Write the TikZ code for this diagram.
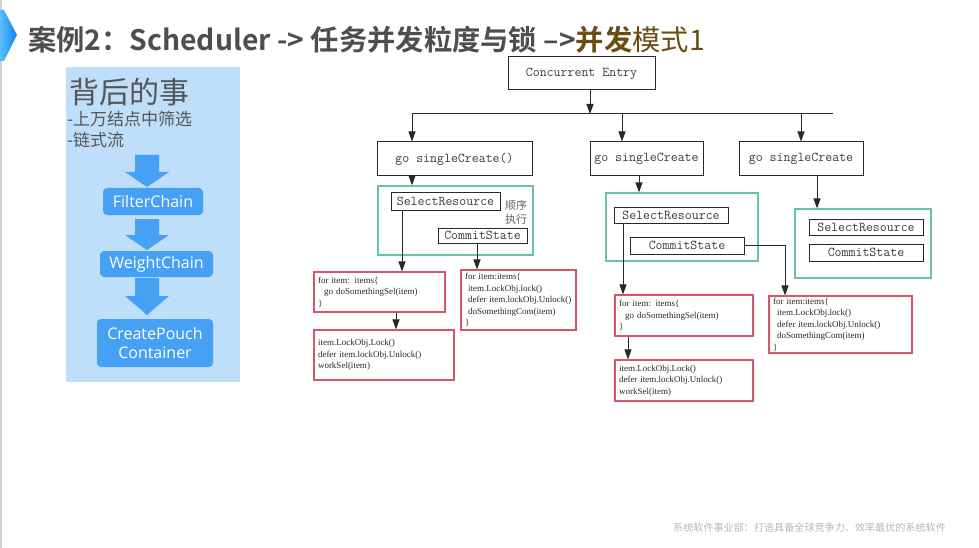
\documentclass[tikz,border=0pt]{standalone}
\usepackage{fontspec}
\usetikzlibrary{arrows.meta,calc}
\newfontfamily\cjk{Noto Sans CJK SC}[BoldFont={Noto Sans CJK SC Bold}]
\newfontfamily\osans{Open Sans}
\newfontfamily\tms{Liberation Serif}
\definecolor{titlegray}{RGB}{78,78,78}
\definecolor{brownT}{RGB}{108,76,16}
\definecolor{panelblue}{RGB}{190,222,250}
\definecolor{bluec}{RGB}{70,160,244}
\definecolor{linegray}{RGB}{40,40,40}
\definecolor{grnc}{RGB}{105,196,160}
\definecolor{redc}{RGB}{212,86,106}
\definecolor{boxtext}{RGB}{60,60,60}
\definecolor{paneltext}{RGB}{85,85,85}
\newcommand{\bdarrow}[3]{\fill[bluec] (135,#1) -- (159,#1) -- (159,#2) -- (169,#2) -- (147,#3) -- (125,#2) -- (135,#2) -- cycle;}
\tikzset{
  blk/.style={draw=linegray, line width=1pt, fill=white, inner sep=0pt,
    font=\fontsize{13.5}{15}\selectfont\ttfamily, text=boxtext},
  grnbox/.style={draw=grnc, line width=1.2pt, inner sep=0pt},
  redbox/.style={draw=redc, line width=1.1pt, fill=white, inner xsep=4pt, inner ysep=0pt,
    align=left, font=\tms\fontsize{9}{11.5}\selectfont, text=linegray},
  arr/.style={draw=linegray, line width=1pt, -{Triangle[length=10pt,width=7pt]}},
  ln/.style={draw=linegray, line width=1pt},
  bluebox/.style={fill=bluec, rounded corners=4pt, text=white, inner sep=0pt,
    font=\osans\fontsize{16}{20}\selectfont, align=center},
}
\begin{document}
\begin{tikzpicture}[x=1pt,y=-1pt]
\useasboundingbox (0,0) rectangle (979,548);
\fill[white] (0,0) rectangle (979,548);
% left decorations
\draw[black!18, line width=1.2pt] (1,0) -- (1,548);
\shade[left color={rgb,255:red,90;green,190;blue,250}, right color={rgb,255:red,20;green,130;blue,235}]
  (0,10) -- (4,10) -- (17,35) -- (4,61) -- (0,61) -- cycle;
% title
\node[anchor=west, inner sep=0pt, font=\cjk\fontsize{28.3}{30}\selectfont] (title) at (28,40)
  {{\bfseries\color{titlegray}案例2：Scheduler -> 任务并发粒度与锁 –>}{\bfseries\color{brownT}并发}{\color{brownT}模式1}};
% left panel
\fill[panelblue] (66,67) rectangle (240,382);
\node[anchor=west, inner sep=0pt, text=paneltext, font=\cjk\fontsize{30}{32}\selectfont] (t1) at (69,92) {背后的事};
\node[anchor=west, inner sep=0pt, text=paneltext, font=\cjk\fontsize{17}{18}\selectfont] (t2) at (67,119) {-上万结点中筛选};
\node[anchor=west, inner sep=0pt, text=paneltext, font=\cjk\fontsize{17}{18}\selectfont] (t3) at (67,140) {-链式流};
\bdarrow{155}{172}{187}
\bdarrow{219}{235}{250}
\bdarrow{278}{296}{315}
\node[bluebox, minimum width=100pt, minimum height=27pt] (fc) at (153,201.5) {FilterChain};
\node[bluebox, minimum width=113pt, minimum height=26pt] (wc) at (156.5,264) {WeightChain};
\node[bluebox, minimum width=116pt, minimum height=48pt, font=\osans\fontsize{16}{19}\selectfont] (cp) at (155,343) {CreatePouch\\Container};
% green groups
\node[grnbox, minimum width=155pt, minimum height=69pt] (gr1) at (455.5,220.5) {};
\node[grnbox, minimum width=152pt, minimum height=68pt] (gr2) at (682,227) {};
\node[grnbox, minimum width=136pt, minimum height=69pt] (gr3) at (863,243.5) {};
% black boxes
\node[blk, minimum width=147pt, minimum height=33pt] (entry) at (581.5,73.5) {Concurrent Entry};
\node[blk, minimum width=155pt, minimum height=34pt] (g1) at (454.5,159) {go singleCreate()};
\node[blk, minimum width=113pt, minimum height=34pt] (g2) at (646.5,159) {go singleCreate};
\node[blk, minimum width=124pt, minimum height=34pt] (g3) at (801,159) {go singleCreate};
\node[blk, minimum width=109pt, minimum height=17pt] (sel1) at (445.5,201.5) {SelectResource};
\node[blk, minimum width=89pt, minimum height=15pt] (com1) at (482.5,235.5) {CommitState};
\node[blk, minimum width=114pt, minimum height=16pt] (sel2) at (671,215) {SelectResource};
\node[blk, minimum width=114pt, minimum height=17pt] (com2) at (687,245.5) {CommitState};
\node[blk, minimum width=114pt, minimum height=16pt] (sel3) at (866,227) {SelectResource};
\node[blk, minimum width=114pt, minimum height=17pt] (com3) at (866,252.5) {CommitState};
\node[inner sep=0pt, text=black!60, font=\cjk\fontsize{11}{14}\selectfont, align=center] (note) at (516,212) {顺序\\执行};
% red boxes
\node[redbox, text width=123pt, minimum height=40pt] (ra) at (379.5,292)
  {\mbox{for item: items\{}\\\mbox{\hspace*{6pt}go doSomethingSel(item)}\\\}};
\node[redbox, text width=132pt, minimum height=50pt] (rb) at (384,355)
  {\mbox{item.LockObj.Lock()}\\\mbox{defer item.lockObj.Unlock()}\\\mbox{workSel(item)}};
\node[redbox, text width=107pt, minimum height=60pt] (rc) at (518.5,300)
  {\mbox{for item:items\{}\\\mbox{\hspace*{3pt}item.LockObj.lock()}\\\mbox{\hspace*{3pt}defer item.lockObj.Unlock()}\\\mbox{\hspace*{3pt}doSomethingCom(item)}\\\}};
\node[redbox, text width=130pt, minimum height=41pt] (rd) at (684,315.5)
  {\mbox{for item: items\{}\\\mbox{\hspace*{6pt}go doSomethingSel(item)}\\\}};
\node[redbox, text width=130pt, minimum height=41pt] (rf) at (684,380.5)
  {\mbox{item.LockObj.Lock()}\\\mbox{defer item.lockObj.Unlock()}\\\mbox{workSel(item)}};
\node[redbox, text width=135pt, minimum height=57pt] (re) at (840.5,324.5)
  {\mbox{for item:items\{}\\\mbox{\hspace*{4pt}item.LockObj.lock()}\\\mbox{\hspace*{4pt}defer item.lockObj.Unlock()}\\\mbox{\hspace*{4pt}doSomethingCom(item)}\\\}};
% connectors
\coordinate (eb) at (590,114);
\coordinate (b1) at (412,114);
\coordinate (b2) at (622,114);
\coordinate (b3) at (801,114);
\coordinate (bR) at (833,114);
\draw[ln] (b1) -- (bR);
\draw[arr] (eb |- entry.south) -- (eb);
\draw[arr] (b1) -- (b1 |- g1.north);
\draw[arr] (b2) -- (b2 |- g2.north);
\draw[arr] (b3) -- (b3 |- g3.north);
\draw[arr] (b1 |- g1.south) -- (b1 |- gr1.north);
\draw[arr] ([xshift=-7.5pt]g2.south) -- ([xshift=-7.5pt]g2.south |- gr2.north);
\draw[arr] ([xshift=16pt]g3.south) -- ([xshift=16pt]g3.south |- gr3.north);
\draw[arr] ([xshift=-43.5pt]sel1.south) -- ([xshift=-43.5pt]sel1.south |- ra.north);
\draw[arr] ([xshift=-5.5pt]com1.south) -- ([xshift=-5.5pt]com1.south |- rc.north);
\draw[arr] ([xshift=16.5pt]ra.south) -- ([xshift=16.5pt]ra.south |- rb.north);
\draw[arr] ([xshift=-48pt]sel2.south) -- ([xshift=-48pt]sel2.south |- rd.north);
\draw[arr] ([xshift=-56pt]rd.south) -- ([xshift=-56pt]rd.south |- rf.north);
\draw[arr] (com2.east) -| ([xshift=-55.5pt]re.north);
% footer
\node[anchor=west, inner sep=0pt, text=black!28, font=\cjk\fontsize{10.1}{12}\selectfont] (foot) at (673,528)
  {系统软件事业部：打造具备全球竞争力、效率最优的系统软件};
\end{tikzpicture}
\end{document}
